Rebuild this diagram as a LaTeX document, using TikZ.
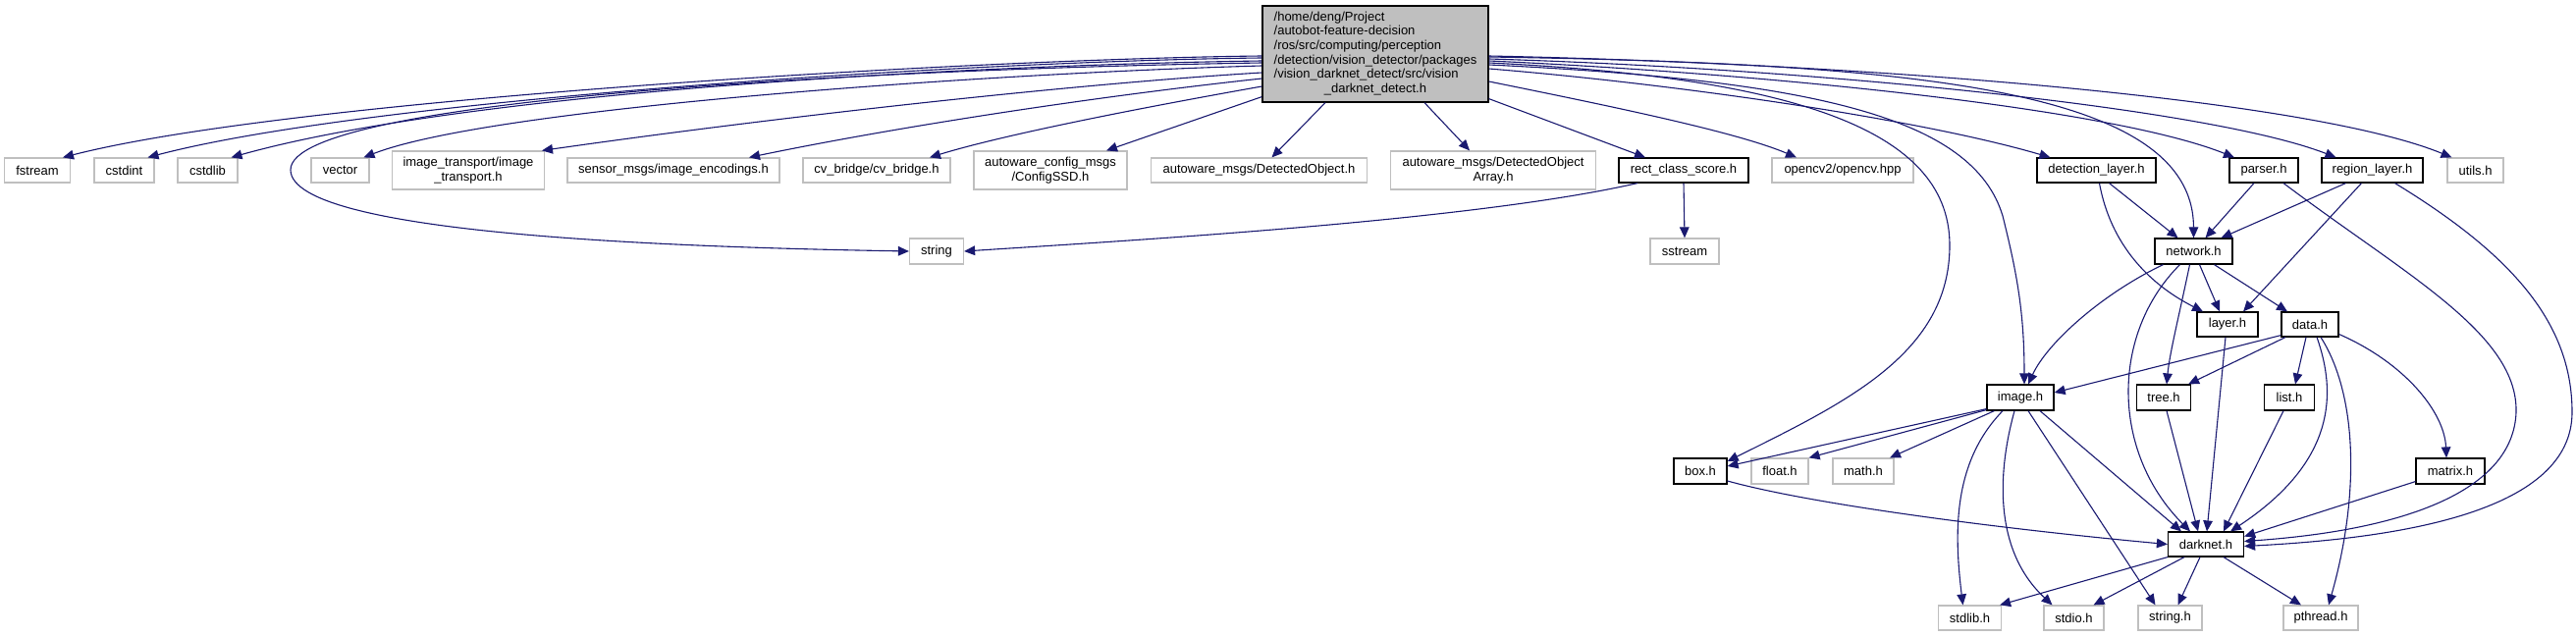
\documentclass[tikz,border=0pt]{standalone}
\usepackage{fontspec}
\setmainfont{Liberation Sans}
\usetikzlibrary{arrows.meta,calc}
\definecolor{edgec}{HTML}{191970}
\definecolor{extc}{HTML}{BFBFBF}
\definecolor{mainfill}{HTML}{BFBFBF}
\tikzset{
  box/.style 2 args={draw, line width=0.6pt, inner sep=0pt, minimum width=#1*0.5pt, minimum height=#2*0.5pt,
    font=\fontsize{6.5}{7.35}\selectfont, align=center},
  ext/.style 2 args={box={#1}{#2}, draw=extc},
  doc/.style 2 args={box={#1}{#2}, draw=black},
  edge/.style={draw=edgec, line width=0.55pt, -{Triangle[length=5.5pt,width=4.8pt]}},
}
\begin{document}
\begin{tikzpicture}[x=0.5pt,y=-0.5pt]
\useasboundingbox (0,0) rectangle (2624,648);
% main node
\node[doc={230}{98}, fill=mainfill] (main) at (1401,55) {\begin{tabular}{@{}l@{}}/home/deng/Project\\/autobot-feature-decision\\/ros/src/computing/perception\\/detection/vision\_detector/packages\\/vision\_darknet\_detect/src/vision\\\multicolumn{1}{@{}c@{}}{\_darknet\_detect.h}\end{tabular}};
% top row
\node[ext={67}{25}] (fstream) at (38,173.5) {fstream};
\node[ext={61}{25}] (cstdint) at (126.5,173.5) {cstdint};
\node[ext={61}{25}] (cstdlib) at (211.5,173.5) {cstdlib};
\node[ext={59}{25}] (vector) at (346.5,173.5) {vector};
\node[ext={155}{39}] (imgtr) at (477,173.5) {image\_transport/image\\\_transport.h};
\node[ext={216}{25}] (sensor) at (686,173.5) {sensor\_msgs/image\_encodings.h};
\node[ext={150}{25}] (cvb) at (893,173.5) {cv\_bridge/cv\_bridge.h};
\node[ext={156}{39}] (acfg) at (1070,173.5) {autoware\_config\_msgs\\/ConfigSSD.h};
\node[ext={220}{25}] (dobj) at (1282.5,173.5) {autoware\_msgs/DetectedObject.h};
\node[ext={209}{39}] (doarr) at (1521,173.5) {autoware\_msgs/DetectedObject\\Array.h};
\node[doc={132}{25}] (rect) at (1715,173.5) {rect\_class\_score.h};
\node[ext={144}{25}] (opencv) at (1877,173.5) {opencv2/opencv.hpp};
\node[doc={121}{25}] (detl) at (2135.5,173.5) {detection\_layer.h};
\node[doc={70}{25}] (parser) at (2306,173.5) {parser.h};
\node[doc={103}{25}] (regl) at (2416.5,173.5) {region\_layer.h};
\node[ext={57}{25}] (utils) at (2521.5,173.5) {utils.h};
% lower nodes
\node[ext={55}{26}] (stringA) at (954,256) {string};
\node[ext={70}{26}] (sstream) at (1716,256) {sstream};
\node[doc={79}{26}] (network) at (2234.5,256) {network.h};
\node[doc={62}{25}] (layer) at (2269,330.5) {layer.h};
\node[doc={58}{25}] (data) at (2353,330.5) {data.h};
\node[doc={68}{26}] (image) at (2058,405) {image.h};
\node[doc={55}{26}] (tree) at (2204,405) {tree.h};
\node[doc={51}{26}] (list) at (2332,405) {list.h};
\node[doc={54}{26}] (box) at (1732,480) {box.h};
\node[ext={58}{26}] (float) at (1813,480) {float.h};
\node[ext={62}{26}] (math) at (1898,480) {math.h};
\node[doc={70}{26}] (matrix) at (2496,480) {matrix.h};
\node[doc={77}{25}] (darknet) at (2247,554.5) {darknet.h};
\node[ext={64}{25}] (stdlib) at (2006.5,629.5) {stdlib.h};
\node[ext={61}{25}] (stdio) at (2112.5,629.5) {stdio.h};
\node[ext={65}{25}] (stringh) at (2210.5,629.5) {string.h};
\node[ext={76}{25}] (pthread) at (2364,629.5) {pthread.h};
% edges from main, left side
\draw[edge] ($(main.west)+(0,2)$) .. controls (1000,60) and (300,100) .. ($(fstream.north)+(26,0)$);
\draw[edge] ($(main.west)+(0,4)$) .. controls (1000,62) and (380,100) .. ($(cstdint.north)+(24,0)$);
\draw[edge] ($(main.west)+(0,7)$) .. controls (1000,66) and (480,92) .. ($(cstdlib.north)+(24,0)$);
\draw[edge] ($(main.west)+(0,9)$) .. controls (900,70) and (296,100) .. (296,173) .. controls (296,240) and (700,252) .. (stringA.west);
\draw[edge] ($(main.west)+(0,12)$) .. controls (1000,75) and (500,110) .. ($(vector.north)+(24,0)$);
\draw[edge] ($(main.west)+(0,19)$) .. controls (1100,85) and (800,118) .. ($(imgtr.north)+(75,0)$);
\draw[edge] ($(main.west)+(0,25)$) .. controls (1100,100) and (900,132) .. ($(sensor.north)+(77,0)$);
\draw[edge] ($(main.west)+(0,33)$) .. controls (1150,112) and (1020,138) .. ($(cvb.north)+(54,0)$);
\draw[edge] ($(main.south west)+(0,-6)$) -- ($(acfg.north)+(57,0)$);
\draw[edge] ($(main.south)+(-51,0)$) -- ($(dobj.north)+(13,0)$);
\draw[edge] ($(main.south)+(50,0)$) -- ($(doarr.north)+(-24,0)$);
\draw[edge] ($(main.south east)+(0,-4)$) -- ($(rect.north)+(-39,0)$);
% edges from main, right side
\draw[edge] ($(main.east)+(0,28)$) .. controls (1650,110) and (1770,135) .. ($(opencv.north)+(-47,0)$);
\draw[edge] ($(main.east)+(0,15)$) .. controls (1700,85) and (1950,120) .. ($(detl.north)+(-47,0)$);
\draw[edge] ($(main.east)+(0,7)$) .. controls (1800,75) and (2150,110) .. ($(parser.north)+(-30,0)$);
\draw[edge] ($(main.east)+(0,5)$) .. controls (1850,70) and (2250,110) .. ($(regl.north)+(-37,0)$);
\draw[edge] ($(main.east)+(0,2)$) .. controls (1900,65) and (2350,100) .. ($(utils.north)+(-24,0)$);
\draw[edge] ($(main.east)+(0,9)$) .. controls (1850,80) and (1986,140) .. (1986,250) .. controls (1986,360) and (1880,410) .. ($(box.east)+(0,-10)$);
\draw[edge] ($(main.east)+(0,11)$) .. controls (1850,82) and (2010,120) .. (2040,220) .. controls (2055,280) and (2062,320) .. ($(image.north)+(4,0)$);
\draw[edge] ($(main.east)+(0,3)$) .. controls (1950,65) and (2234,90) .. (network.north);
% rect_class_score
\draw[edge] ($(rect.south)+(-47,0)$) .. controls (1500,225) and (1150,245) .. (stringA.east);
\draw[edge] (rect.south) -- (sstream.north);
% detection_layer
\draw[edge] ($(detl.south)+(13,0)$) -- ($(network.north)+(-16,0)$);
\draw[edge] ($(detl.south)+(3,0)$) .. controls (2150,250) and (2190,290) .. ($(layer.north)+(-25,0)$);
% parser
\draw[edge] ($(parser.south)+(-10,0)$) -- ($(network.north)+(12,0)$);
\draw[edge] ($(parser.south)+(20,0)$) .. controls (2450,280) and (2565,340) .. (2563,420) .. controls (2560,500) and (2450,540) .. ($(darknet.east)+(0,-3)$);
% region_layer
\draw[edge] ($(regl.south)+(-27,0)$) -- ($(network.north)+(28,0)$);
\draw[edge] ($(regl.south)+(-11,0)$) -- ($(layer.north)+(16,0)$);
\draw[edge] ($(regl.south)+(23,0)$) .. controls (2560,260) and (2620,330) .. (2620,420) .. controls (2620,520) and (2450,548) .. ($(darknet.east)+(0,2)$);
% network
\draw[edge] ($(network.south)+(-31,0)$) .. controls (2140,300) and (2085,350) .. ($(image.north)+(8,0)$);
\draw[edge] ($(network.south)+(-14,0)$) .. controls (2150,340) and (2150,460) .. ($(darknet.north)+(-16,0)$);
\draw[edge] ($(network.south)+(-4,0)$) .. controls (2220,320) and (2210,360) .. ($(tree.north)+(3,0)$);
\draw[edge] ($(network.south)+(6,0)$) -- ($(layer.north)+(-8,0)$);
\draw[edge] ($(network.south)+(21,0)$) -- ($(data.north)+(-23,0)$);
% layer
\draw[edge] ($(layer.south)+(-2,0)$) -- ($(darknet.north)+(1,0)$);
% data
\draw[edge] ($(data.south west)+(0,-2)$) -- ($(image.east)+(0,-5)$);
\draw[edge] ($(data.south)+(-25,0)$) -- ($(tree.north east)+(-3,0)$);
\draw[edge] ($(data.south)+(-4,0)$) -- ($(list.north)+(6,0)$);
\draw[edge] ($(data.south)+(7,0)$) .. controls (2380,400) and (2380,470) .. ($(darknet.north)+(25,0)$);
\draw[edge] ($(data.south)+(11,0)$) .. controls (2400,400) and (2405,500) .. ($(pthread.north)+(8,0)$);
\draw[edge] ($(data.east)+(0,10)$) .. controls (2450,370) and (2490,420) .. ($(matrix.north)+(-4,0)$);
% image
\draw[edge] ($(image.south west)+(0,-2)$) -- ($(box.east)+(0,-5)$);
\draw[edge] ($(image.south west)+(0,-1)$) -- (float.north east);
\draw[edge] ($(image.south west)+(8,0)$) -- ($(math.north)+(27,0)$);
\draw[edge] ($(image.south)+(-18,0)$) .. controls (1990,470) and (1990,540) .. ($(stdlib.north)+(-7,0)$);
\draw[edge] ($(image.south)+(-6,0)$) .. controls (2035,480) and (2030,560) .. ($(stdio.north)+(-22,0)$);
\draw[edge] ($(image.south)+(8,0)$) -- ($(stringh.north)+(-15,0)$);
\draw[edge] ($(image.south)+(20,0)$) -- ($(darknet.north)+(-25,0)$);
% box, tree, list, matrix
\draw[edge] ($(box.east)+(0,10)$) .. controls (1850,515) and (2050,540) .. (darknet.west);
\draw[edge] ($(tree.south)+(3,0)$) -- ($(darknet.north)+(-8,0)$);
\draw[edge] ($(list.south)+(-6,0)$) -- ($(darknet.north)+(18,0)$);
\draw[edge] ($(matrix.south west)+(0,-3)$) -- ($(darknet.east)+(0,-8)$);
% darknet
\draw[edge] (darknet.south west) -- ($(stdlib.north east)+(-2,0)$);
\draw[edge] ($(darknet.south)+(-22,0)$) -- ($(stdio.north)+(20,0)$);
\draw[edge] ($(darknet.south)+(-6,0)$) -- ($(stringh.north)+(8,0)$);
\draw[edge] ($(darknet.south)+(18,0)$) -- ($(pthread.north)+(-20,0)$);
\end{tikzpicture}
\end{document}
